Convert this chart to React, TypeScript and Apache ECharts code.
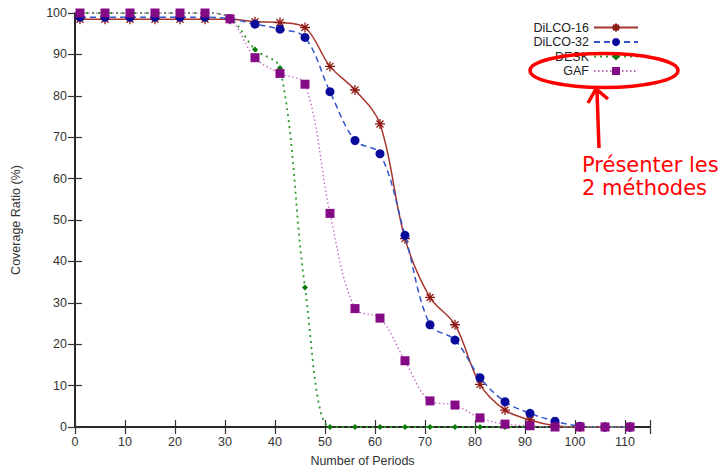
import React, { useEffect, useRef } from "react";
import * as echarts from "echarts";

const periods = [1, 6, 11, 16, 21, 26, 31, 36, 41, 46, 51, 56, 61, 66, 71, 76, 81, 86, 91, 96, 101, 106, 111];
const dilco16 = [98.5, 98.5, 98.5, 98.5, 98.5, 98.5, 98.5, 97.9, 97.7, 96.5, 87.1, 81.4, 73.2, 45.5, 31.3, 24.7, 10.3, 4.1, 1.7, 0.3, 0, 0, 0];
const dilco32 = [99, 99, 99, 99, 99, 99, 98.6, 97.3, 96.1, 94.1, 81.0, 69.2, 66.0, 46.3, 24.7, 21.0, 11.9, 6.1, 3.3, 1.4, 0.2, 0, 0];
const desk = [100, 100, 100, 100, 100, 100, 98.8, 91.2, 86.7, 33.7, 0, 0, 0, 0, 0, 0, 0, 0, 0, 0, 0, 0, 0];
const gaf = [100, 100, 100, 100, 100, 100, 98.6, 89.2, 85.4, 82.8, 51.6, 28.6, 26.3, 16.0, 6.3, 5.3, 2.2, 0.7, 0.3, 0, 0, 0, 0];
const seriesNames = ["DiLCO-16", "DiLCO-32", "DESK", "GAF"];
const xTitle = "Number of Periods";
const yTitle = "Coverage Ratio (%)";
const noteLines = ["Présenter les", "2 méthodes"];

const star = "path://M5 0 L5 10 M0 5 L10 5 M1.5 1.5 L8.5 8.5 M1.5 8.5 L8.5 1.5";

const font = "Liberation Sans, Helvetica, Arial, sans-serif";

export default function App() {
  const ref = useRef<HTMLDivElement>(null);
  useEffect(() => {
    const chart = echarts.init(ref.current!, null, { renderer: "svg" });
    const pair = (ys: number[]) => periods.map((x, i) => [x, ys[i]]);
    const axisLine = { show: true, lineStyle: { color: "#1a1a1a", width: 1.5 } };
    const tick = { show: true, inside: true, length: 7, lineStyle: { color: "#333", width: 1.2 } };
    chart.setOption({
      animation: false,
      backgroundColor: "#fff",
      grid: { left: 75, right: 70, top: 13, bottom: 44, containLabel: false },
      legend: {
        orient: "vertical",
        align: "right",
        right: 76,
        top: 16,
        itemWidth: 44,
        itemHeight: 10,
        itemGap: 1.5,
        textStyle: { fontFamily: font, fontSize: 12.5, color: "#222" },
        data: seriesNames,
      },
      xAxis: [
        {
          type: "value",
          min: 0,
          max: 115,
          interval: 10,
          position: "bottom",
          name: xTitle,
          nameLocation: "middle",
          nameGap: 27,
          nameTextStyle: { fontFamily: font, fontSize: 12.5, color: "#333" },
          axisLine,
          axisTick: tick,
          splitLine: { show: false },
          axisLabel: {
            fontFamily: font,
            fontSize: 12.5,
            color: "#333",
            margin: 8,
            formatter: (v: number) => (v % 10 === 0 ? String(v) : ""),
          },
        },
        {
          type: "value",
          min: 0,
          max: 115,
          interval: 10,
          position: "top",
          axisLine,
          axisTick: tick,
          splitLine: { show: false },
          axisLabel: { show: false },
        },
      ],
      yAxis: [
        {
          type: "value",
          min: 0,
          max: 100,
          interval: 10,
          position: "left",
          name: yTitle,
          nameLocation: "middle",
          nameGap: 53,
          nameTextStyle: { fontFamily: font, fontSize: 12.5, color: "#333" },
          axisLine,
          axisTick: tick,
          splitLine: { show: false },
          axisLabel: { fontFamily: font, fontSize: 12.5, color: "#333", margin: 8 },
        },
        {
          type: "value",
          min: 0,
          max: 100,
          interval: 10,
          position: "right",
          axisLine,
          axisTick: tick,
          splitLine: { show: false },
          axisLabel: { show: false },
        },
      ],
      series: [
        {
          name: seriesNames[0],
          type: "line",
          data: pair(dilco16),
          smooth: 0.35,
          symbol: star,
          symbolSize: 10,
          itemStyle: { color: "#8e1a14", borderColor: "#8e1a14", borderWidth: 1.3 },
          lineStyle: { color: "#a8352c", width: 1.5, type: "solid" },
          z: 2,
        },
        {
          name: seriesNames[1],
          type: "line",
          data: pair(dilco32),
          smooth: 0.35,
          symbol: "circle",
          symbolSize: 9,
          itemStyle: { color: "#0a0a9a" },
          lineStyle: { color: "#3355cc", width: 1.5, type: [6, 4] },
          z: 3,
        },
        {
          name: seriesNames[2],
          type: "line",
          data: pair(desk),
          smooth: 0.35,
          symbol: "diamond",
          symbolSize: 6,
          itemStyle: { color: "#0a7a0a" },
          lineStyle: { color: "#2a9a2a", width: 1.8, type: [2, 4] },
          z: 4,
        },
        {
          name: seriesNames[3],
          type: "line",
          data: pair(gaf),
          smooth: 0.35,
          symbol: "rect",
          symbolSize: 9,
          itemStyle: { color: "#850a85" },
          lineStyle: { color: "#c065c0", width: 1.3, type: [1.5, 2.5] },
          z: 5,
        },
      ],
      graphic: [
        {
          type: "ellipse",
          shape: { cx: 604, cy: 70.5, rx: 74, ry: 17 },
          style: { fill: "none", stroke: "#ff0000", lineWidth: 3.5 },
          z: 100,
        },
        {
          type: "polyline",
          shape: { points: [[599, 148], [598, 120], [597, 90]] },
          style: { fill: "none", stroke: "#ff0000", lineWidth: 3.5 },
          z: 100,
        },
        {
          type: "polyline",
          shape: { points: [[588, 103], [596, 89], [608, 99]] },
          style: { fill: "none", stroke: "#ff0000", lineWidth: 3.5 },
          z: 100,
        },
        {
          type: "text",
          x: 582,
          y: 164.5,
          style: {
            text: noteLines[0],
            fill: "#ff0000",
            font: "21px 'DejaVu Sans', sans-serif",
            verticalAlign: "middle",
            align: "left",
          },
          z: 100,
        },
        {
          type: "text",
          x: 582,
          y: 188,
          style: {
            text: noteLines[1],
            fill: "#ff0000",
            font: "21px 'DejaVu Sans', sans-serif",
            verticalAlign: "middle",
            align: "left",
          },
          z: 100,
        },
      ],
    });
    return () => chart.dispose();
  }, []);
  return (
    <div
      ref={ref}
      style={{ position: "fixed", left: 0, top: 0, width: 720, height: 472, background: "#fff" }}
    />
  );
}
